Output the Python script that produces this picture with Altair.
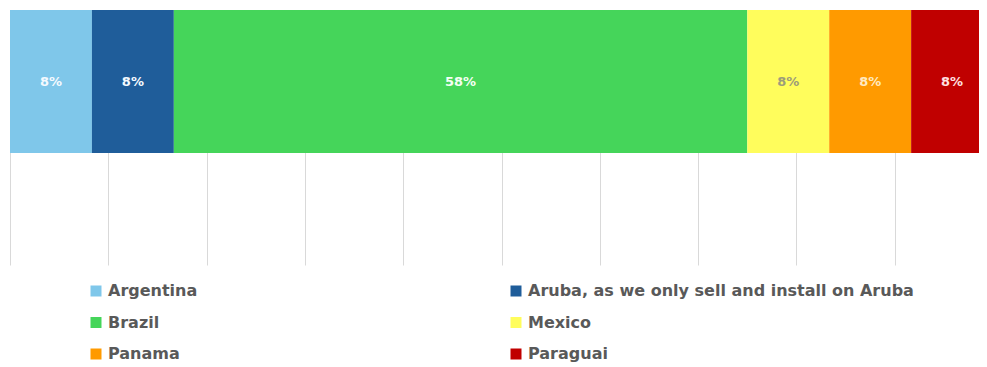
import altair as alt
import pandas as pd

countries = ["Argentina", "Aruba, as we only sell and install on Aruba", "Brazil",
             "Mexico", "Panama", "Paraguai"]
counts = [1, 1, 7, 1, 1, 1]
colors = ["#7FC7EA", "#1F5D9A", "#45D55A", "#FFFD5C", "#FF9A00", "#C00000"]
label_colors = ["#F4FAFF", "#F4FAFF", "#F4FFF4", "#9C9C7A", "#FFE9C0", "#FFE0E0"]
grid_ticks = [0, 0.1, 0.2, 0.3, 0.4, 0.5, 0.6, 0.7, 0.8, 0.9]

total = sum(counts)
rows = []
acc = 0.0
for c, n, lc in zip(countries, counts, label_colors):
    share = n / total
    rows.append({"country": c, "share": share, "start": acc, "end": acc + share,
                 "mid": acc + share / 2, "row": "Q", "lc": lc})
    acc += share
df = pd.DataFrame(rows)

xscale = alt.Scale(domain=[0, 0.9857], zero=False, nice=False)
yscale = alt.Scale(domain=["Q"], paddingInner=0, paddingOuter=0.3916, align=0)

base = alt.Chart(df)

bars = base.mark_bar(clip=True).encode(
    x=alt.X("start:Q", scale=xscale,
            axis=alt.Axis(values=grid_ticks, grid=True, gridColor="#D9D9D9", gridWidth=1,
                          labels=False, ticks=False, domain=False, title=None)),
    x2="end:Q",
    y=alt.Y("row:N", scale=yscale, axis=None),
    color=alt.Color("country:N",
                    scale=alt.Scale(domain=countries, range=colors),
                    legend=alt.Legend(title=None, orient="none", legendX=78, legendY=273,
                                      direction="horizontal",
                                      columns=2, columnPadding=310, rowPadding=15.5,
                                      symbolType="square", symbolSize=121,
                                      symbolStrokeWidth=0, labelOffset=4,
                                      labelFont="DejaVu Sans", labelFontSize=16,
                                      labelFontWeight="bold", labelColor="#595959",
                                      labelLimit=600)),
)

labels = base.mark_text(font="DejaVu Sans", fontSize=13, fontWeight="bold").encode(
    x=alt.X("mid:Q", scale=xscale),
    y=alt.Y("row:N", scale=yscale),
    text=alt.Text("share:Q", format=".0%"),
    color=alt.Color("lc:N", scale=None),
)

chart = (bars + labels).properties(
    width=969, height=255,
    autosize=alt.AutoSizeParams(type="none"),
    padding={"left": 2, "top": 2, "right": 0, "bottom": 102},
).configure_view(stroke=None)

chart.save("out.html", embed_options={"renderer": "svg", "actions": False})
